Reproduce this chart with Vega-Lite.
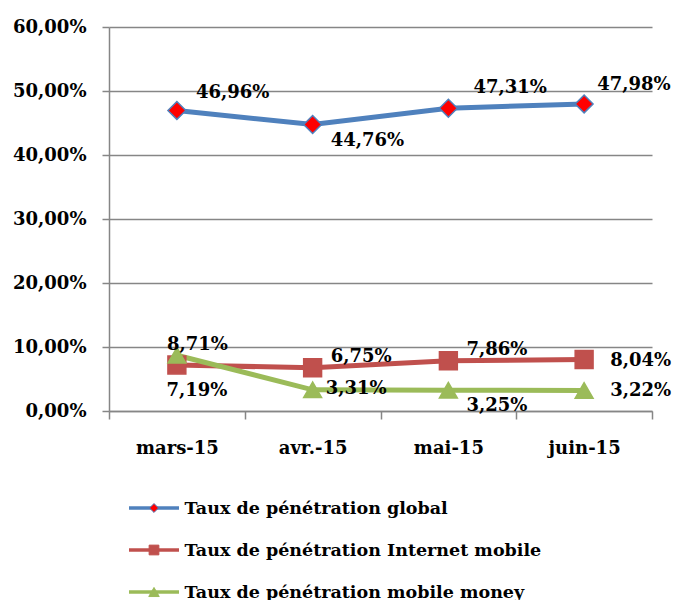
{
  "$schema": "https://vega.github.io/schema/vega-lite/v6.json",
  "background": "white",
  "padding": {"left": 12, "top": 18, "right": 5, "bottom": 0},
  "spacing": 30,
  "resolve": {"scale": {"size": "independent"}},
  "config": {
    "locale": {"number": {"decimal": ",", "thousands": " ", "grouping": [3], "currency": ["", " €"]}},
    "view": {"stroke": null},
    "font": "DejaVu Serif",
    "text": {"font": "DejaVu Serif", "fontSize": 18, "fontWeight": "bold", "color": "black"}
  },
  "datasets": {
    "main": [
      {"month": "mars-15", "series": "Taux de pénétration global", "value": 0.4696},
      {"month": "avr.-15", "series": "Taux de pénétration global", "value": 0.4476},
      {"month": "mai-15", "series": "Taux de pénétration global", "value": 0.4731},
      {"month": "juin-15", "series": "Taux de pénétration global", "value": 0.4798},
      {"month": "mars-15", "series": "Taux de pénétration Internet mobile", "value": 0.0719},
      {"month": "avr.-15", "series": "Taux de pénétration Internet mobile", "value": 0.0675},
      {"month": "mai-15", "series": "Taux de pénétration Internet mobile", "value": 0.0786},
      {"month": "juin-15", "series": "Taux de pénétration Internet mobile", "value": 0.0804},
      {"month": "mars-15", "series": "Taux de pénétration mobile money", "value": 0.0871},
      {"month": "avr.-15", "series": "Taux de pénétration mobile money", "value": 0.0331},
      {"month": "mai-15", "series": "Taux de pénétration mobile money", "value": 0.0325},
      {"month": "juin-15", "series": "Taux de pénétration mobile money", "value": 0.0322}
    ],
    "legend": [
      {"series": "Taux de pénétration global"},
      {"series": "Taux de pénétration Internet mobile"},
      {"series": "Taux de pénétration mobile money"}
    ]
  },
  "vconcat": [
    {
      "width": 543,
      "height": 384,
      "data": {"name": "main"},
      "encoding": {
        "x": {
          "field": "month", "type": "nominal",
          "sort": ["mars-15", "avr.-15", "mai-15", "juin-15"],
          "bandPosition": 0.5,
          "scale": {"type": "band", "paddingInner": 0, "paddingOuter": 0},
          "axis": {
            "title": null, "labelAngle": 0, "tickBand": "extent", "grid": false,
            "tickSize": 8, "tickColor": "#868686", "tickWidth": 1.5,
            "domainColor": "#868686", "domainWidth": 1.5,
            "labelPadding": 20, "labelFont": "DejaVu Serif", "labelFontSize": 18,
            "labelFontWeight": "bold", "labelColor": "black"
          }
        },
        "y": {
          "field": "value", "type": "quantitative",
          "scale": {"domain": [0, 0.6]},
          "axis": {
            "title": null, "values": [0, 0.1, 0.2, 0.3, 0.4, 0.5, 0.6], "format": ".2%",
            "grid": true, "gridColor": "#868686", "gridWidth": 1.5,
            "domainColor": "#868686", "domainWidth": 1.5,
            "tickSize": 7, "tickColor": "#868686", "tickWidth": 1.5,
            "labelPadding": 16, "labelFont": "DejaVu Serif", "labelFontSize": 18,
            "labelFontWeight": "bold", "labelColor": "black"
          }
        }
      },
      "layer": [
        {
          "mark": {"type": "line", "strokeWidth": 5},
          "encoding": {
            "color": {
              "field": "series", "type": "nominal", "legend": null,
              "scale": {
                "domain": ["Taux de pénétration global", "Taux de pénétration Internet mobile", "Taux de pénétration mobile money"],
                "range": ["#4F81BD", "#C0504D", "#9BBB59"]
              }
            }
          }
        },
        {
          "mark": {"type": "point", "filled": true, "opacity": 1, "strokeWidth": 1.5},
          "encoding": {
            "shape": {
              "field": "series", "type": "nominal", "legend": null,
              "scale": {
                "domain": ["Taux de pénétration global", "Taux de pénétration Internet mobile", "Taux de pénétration mobile money"],
                "range": ["diamond", "square", "triangle-up"]
              }
            },
            "fill": {
              "field": "series", "type": "nominal", "legend": null,
              "scale": {
                "domain": ["Taux de pénétration global", "Taux de pénétration Internet mobile", "Taux de pénétration mobile money"],
                "range": ["#FF0000", "#C0504D", "#9BBB59"]
              }
            },
            "stroke": {
              "field": "series", "type": "nominal", "legend": null,
              "scale": {
                "domain": ["Taux de pénétration global", "Taux de pénétration Internet mobile", "Taux de pénétration mobile money"],
                "range": ["#4F81BD", "#C0504D", "#9BBB59"]
              }
            },
            "size": {
              "field": "series", "type": "nominal", "legend": null,
              "scale": {
                "domain": ["Taux de pénétration global", "Taux de pénétration Internet mobile", "Taux de pénétration mobile money"],
                "range": [320, 320, 300]
              }
            }
          }
        },
        {
          "transform": [{"filter": "datum.series == 'Taux de pénétration global' && datum.month == 'mars-15'"}],
          "mark": {"type": "text", "align": "left", "baseline": "middle", "dx": 19, "dy": -17},
          "encoding": {"text": {"field": "value", "type": "quantitative", "format": ".2%"}}
        },
        {
          "transform": [{"filter": "datum.series == 'Taux de pénétration global' && datum.month == 'juin-15'"}],
          "mark": {"type": "text", "align": "left", "baseline": "middle", "dx": 13, "dy": -19},
          "encoding": {"text": {"field": "value", "type": "quantitative", "format": ".2%"}}
        },
        {
          "transform": [{"filter": "datum.series == 'Taux de pénétration global' && datum.month == 'mai-15'"}],
          "mark": {"type": "text", "align": "left", "baseline": "middle", "dx": 25, "dy": -20},
          "encoding": {"text": {"field": "value", "type": "quantitative", "format": ".2%"}}
        },
        {
          "transform": [{"filter": "(datum.series == 'Taux de pénétration global' && datum.month == 'avr.-15') || (datum.series == 'Taux de pénétration mobile money' && datum.month == 'mai-15')"}],
          "mark": {"type": "text", "align": "left", "baseline": "middle", "dx": 18, "dy": 16},
          "encoding": {"text": {"field": "value", "type": "quantitative", "format": ".2%"}}
        },
        {
          "transform": [{"filter": "datum.series == 'Taux de pénétration Internet mobile' && datum.month == 'mars-15'"}],
          "mark": {"type": "text", "align": "center", "baseline": "middle", "dx": 20, "dy": 26},
          "encoding": {"text": {"field": "value", "type": "quantitative", "format": ".2%"}}
        },
        {
          "transform": [{"filter": "datum.series == 'Taux de pénétration Internet mobile' && (datum.month == 'avr.-15' || datum.month == 'mai-15')"}],
          "mark": {"type": "text", "align": "left", "baseline": "middle", "dx": 18, "dy": -11},
          "encoding": {"text": {"field": "value", "type": "quantitative", "format": ".2%"}}
        },
        {
          "transform": [{"filter": "datum.month == 'juin-15' && datum.series != 'Taux de pénétration global'"}],
          "mark": {"type": "text", "align": "left", "baseline": "middle", "dx": 26, "dy": 1},
          "encoding": {"text": {"field": "value", "type": "quantitative", "format": ".2%"}}
        },
        {
          "transform": [{"filter": "datum.series == 'Taux de pénétration mobile money' && datum.month == 'avr.-15'"}],
          "mark": {"type": "text", "align": "left", "baseline": "middle", "dx": 13, "dy": -1},
          "encoding": {"text": {"field": "value", "type": "quantitative", "format": ".2%"}}
        },
        {
          "transform": [{"filter": "datum.series == 'Taux de pénétration mobile money' && datum.month == 'mars-15'"}],
          "mark": {"type": "text", "align": "left", "baseline": "middle", "dx": -10, "dy": -10},
          "encoding": {"text": {"field": "value", "type": "quantitative", "format": ".2%"}}
        }
      ]
    },
    {
      "width": 70,
      "height": 126,
      "data": {"name": "legend"},
      "encoding": {
        "y": {
          "field": "series", "type": "nominal", "sort": null,
          "scale": {"type": "point", "padding": 0.5},
          "axis": {
            "orient": "right", "title": null, "domain": false, "ticks": false,
            "labelPadding": 5, "labelFont": "DejaVu Serif", "labelFontSize": 17.5,
            "labelFontWeight": "bold", "labelColor": "black", "labelLimit": 0
          }
        }
      },
      "layer": [
        {
          "mark": {"type": "rule", "strokeWidth": 3.5},
          "encoding": {
            "x": {"datum": 0, "type": "quantitative", "scale": {"domain": [-0.36, 1]}, "axis": null},
            "x2": {"datum": 1},
            "color": {"field": "series", "type": "nominal", "legend": null}
          }
        },
        {
          "mark": {"type": "point", "filled": true, "opacity": 1, "strokeWidth": 1},
          "encoding": {
            "x": {"datum": 0.5, "type": "quantitative"},
            "shape": {"field": "series", "type": "nominal", "legend": null},
            "fill": {"field": "series", "type": "nominal", "legend": null},
            "stroke": {"field": "series", "type": "nominal", "legend": null},
            "size": {
              "field": "series", "type": "nominal", "legend": null,
              "scale": {
                "domain": ["Taux de pénétration global", "Taux de pénétration Internet mobile", "Taux de pénétration mobile money"],
                "range": [80, 110, 100]
              }
            }
          }
        }
      ]
    }
  ]
}
